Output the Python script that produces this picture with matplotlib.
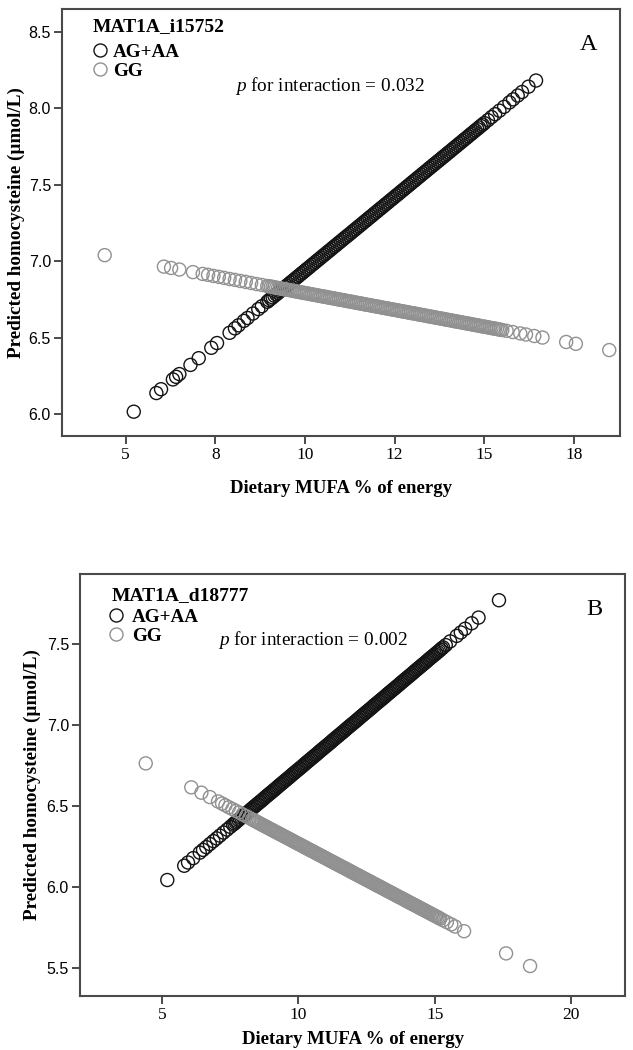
import matplotlib
matplotlib.use('Agg')
import matplotlib.pyplot as plt
from matplotlib.lines import Line2D

plt.rcParams['font.family'] = ['Liberation Serif', 'DejaVu Serif']
plt.rcParams['mathtext.fontset'] = 'custom'
plt.rcParams['mathtext.it'] = 'Liberation Serif:italic'
plt.rcParams['mathtext.rm'] = 'Liberation Serif'

# ---- panel A : MAT1A_i15752 ----
a_aa_x = [5.23, 5.86, 5.99, 6.32, 6.41, 6.50, 6.81, 7.04, 7.39, 7.55,
          7.90, 8.05, 8.15, 8.30, 8.40, 8.55, 8.70, 8.80, 8.95,
          9.0, 9.1, 9.2, 9.3, 9.4, 9.5, 9.6, 9.7, 9.8, 9.9,
          10.0, 10.1, 10.2, 10.3, 10.4, 10.5, 10.6, 10.7, 10.8, 10.9,
          11.0, 11.1, 11.2, 11.3, 11.4, 11.5, 11.6, 11.7, 11.8, 11.9,
          12.0, 12.1, 12.2, 12.3, 12.4, 12.5, 12.6, 12.7, 12.8, 12.9,
          13.0, 13.1, 13.2, 13.3, 13.4, 13.5, 13.6, 13.7, 13.8, 13.9,
          14.0, 14.1, 14.2, 14.3, 14.4, 14.5, 14.6, 14.7, 14.8, 14.9,
          15.0, 15.1, 15.2, 15.3, 15.42, 15.55, 15.70, 15.80, 15.93, 16.05,
          16.23, 16.44]
a_aa_y = [6.016, 6.138, 6.163, 6.227, 6.244, 6.262, 6.322, 6.366, 6.434, 6.465,
          6.532, 6.561, 6.581, 6.610, 6.629, 6.658, 6.687, 6.706, 6.735,
          6.745, 6.764, 6.783, 6.803, 6.822, 6.841, 6.861, 6.880, 6.899, 6.919,
          6.938, 6.957, 6.977, 6.996, 7.015, 7.035, 7.054, 7.073, 7.093, 7.112,
          7.131, 7.151, 7.170, 7.189, 7.208, 7.228, 7.247, 7.266, 7.286, 7.305,
          7.324, 7.344, 7.363, 7.382, 7.402, 7.421, 7.440, 7.460, 7.479, 7.498,
          7.518, 7.537, 7.556, 7.576, 7.595, 7.614, 7.634, 7.653, 7.672, 7.691,
          7.711, 7.730, 7.749, 7.769, 7.788, 7.807, 7.827, 7.846, 7.865, 7.885,
          7.904, 7.923, 7.943, 7.962, 7.985, 8.010, 8.039, 8.059, 8.084, 8.107,
          8.142, 8.182]
# the thick middle of the band
a_aa_x_mid = [9.05, 9.15, 9.25, 9.35, 9.45, 9.55, 9.65, 9.75, 9.85, 9.95,
              10.05, 10.15, 10.25, 10.35, 10.45, 10.55, 10.65, 10.75, 10.85, 10.95,
              11.05, 11.15, 11.25, 11.35, 11.45, 11.55, 11.65, 11.75, 11.85, 11.95,
              12.05, 12.15, 12.25, 12.35, 12.45, 12.55, 12.65, 12.75, 12.85, 12.95,
              13.05, 13.15, 13.25, 13.35, 13.45, 13.55, 13.65, 13.75, 13.85, 13.95,
              14.05, 14.15, 14.25, 14.35, 14.45, 14.55, 14.65, 14.75, 14.85, 14.95]
a_aa_y_mid = [6.755, 6.774, 6.793, 6.812, 6.832, 6.851, 6.870, 6.890, 6.909, 6.928,
              6.948, 6.967, 6.986, 7.006, 7.025, 7.044, 7.064, 7.083, 7.102, 7.122,
              7.141, 7.160, 7.179, 7.199, 7.218, 7.237, 7.257, 7.276, 7.295, 7.315,
              7.334, 7.353, 7.373, 7.392, 7.411, 7.431, 7.450, 7.469, 7.489, 7.508,
              7.527, 7.547, 7.566, 7.585, 7.605, 7.624, 7.643, 7.662, 7.682, 7.701,
              7.720, 7.740, 7.759, 7.778, 7.798, 7.817, 7.836, 7.856, 7.875, 7.894]

a_gg_x = [4.42, 6.07, 6.27, 6.50, 6.88, 7.15,
          7.30, 7.45, 7.60, 7.75, 7.90, 8.05, 8.20, 8.35, 8.50, 8.65, 8.80, 8.95,
          9.0, 9.1, 9.2, 9.3, 9.4, 9.5, 9.6, 9.7, 9.8, 9.9,
          10.0, 10.1, 10.2, 10.3, 10.4, 10.5, 10.6, 10.7, 10.8, 10.9,
          11.0, 11.1, 11.2, 11.3, 11.4, 11.5, 11.6, 11.7, 11.8, 11.9,
          12.0, 12.1, 12.2, 12.3, 12.4, 12.5, 12.6, 12.7, 12.8, 12.9,
          13.0, 13.1, 13.2, 13.3, 13.4, 13.5, 13.6, 13.7, 13.8, 13.9,
          14.0, 14.1, 14.2, 14.3, 14.4, 14.5, 14.6, 14.7, 14.8, 14.9,
          15.0, 15.1, 15.2, 15.3, 15.4, 15.5,
          15.62, 15.79, 16.00, 16.16, 16.39, 16.62, 17.28, 17.55, 18.48]
a_gg_y = [7.040, 6.965, 6.956, 6.946, 6.929, 6.917,
          6.911, 6.904, 6.898, 6.891, 6.884, 6.878, 6.871, 6.865, 6.858, 6.851, 6.845, 6.838,
          6.836, 6.832, 6.827, 6.823, 6.818, 6.814, 6.810, 6.805, 6.801, 6.796,
          6.792, 6.788, 6.783, 6.779, 6.774, 6.770, 6.766, 6.761, 6.757, 6.752,
          6.748, 6.744, 6.739, 6.735, 6.730, 6.726, 6.722, 6.717, 6.713, 6.708,
          6.704, 6.700, 6.695, 6.691, 6.686, 6.682, 6.678, 6.673, 6.669, 6.664,
          6.660, 6.656, 6.651, 6.647, 6.642, 6.638, 6.634, 6.629, 6.625, 6.620,
          6.616, 6.612, 6.607, 6.603, 6.598, 6.594, 6.590, 6.585, 6.581, 6.576,
          6.572, 6.568, 6.563, 6.559, 6.554, 6.550,
          6.545, 6.537, 6.528, 6.521, 6.511, 6.501, 6.472, 6.460, 6.419]
a_gg_x_mid = [9.05, 9.15, 9.25, 9.35, 9.45, 9.55, 9.65, 9.75, 9.85, 9.95,
              10.05, 10.15, 10.25, 10.35, 10.45, 10.55, 10.65, 10.75, 10.85, 10.95,
              11.05, 11.15, 11.25, 11.35, 11.45, 11.55, 11.65, 11.75, 11.85, 11.95,
              12.05, 12.15, 12.25, 12.35, 12.45, 12.55, 12.65, 12.75, 12.85, 12.95,
              13.05, 13.15, 13.25, 13.35, 13.45, 13.55, 13.65, 13.75, 13.85, 13.95,
              14.05, 14.15, 14.25, 14.35, 14.45, 14.55, 14.65, 14.75, 14.85, 14.95,
              15.05, 15.15, 15.25, 15.35, 15.45]
a_gg_y_mid = [6.834, 6.829, 6.825, 6.821, 6.816, 6.812, 6.807, 6.803, 6.799, 6.794,
              6.790, 6.785, 6.781, 6.777, 6.772, 6.768, 6.763, 6.759, 6.755, 6.750,
              6.746, 6.741, 6.737, 6.733, 6.728, 6.724, 6.719, 6.715, 6.711, 6.706,
              6.702, 6.697, 6.693, 6.689, 6.684, 6.680, 6.675, 6.671, 6.667, 6.662,
              6.658, 6.653, 6.649, 6.645, 6.640, 6.636, 6.631, 6.627, 6.623, 6.618,
              6.614, 6.609, 6.605, 6.601, 6.596, 6.592, 6.587, 6.583, 6.579, 6.574,
              6.570, 6.565, 6.561, 6.557, 6.552]

# ---- panel B : MAT1A_d18777 ----
b_aa_x = [5.19, 5.81, 5.95, 6.14, 6.38,
          6.50, 6.62, 6.75, 6.88, 7.00, 7.12, 7.25, 7.38, 7.50,
          7.6, 7.7, 7.8, 7.9, 8.0, 8.1, 8.2, 8.3, 8.4, 8.5, 8.6, 8.7, 8.8, 8.9,
          9.0, 9.1, 9.2, 9.3, 9.4, 9.5, 9.6, 9.7, 9.8, 9.9,
          10.0, 10.1, 10.2, 10.3, 10.4, 10.5, 10.6, 10.7, 10.8, 10.9,
          11.0, 11.1, 11.2, 11.3, 11.4, 11.5, 11.6, 11.7, 11.8, 11.9,
          12.0, 12.1, 12.2, 12.3, 12.4, 12.5, 12.6, 12.7, 12.8, 12.9,
          13.0, 13.1, 13.2, 13.3, 13.4, 13.5, 13.6, 13.7, 13.8, 13.9,
          14.0, 14.1, 14.2, 14.3, 14.4, 14.5, 14.6, 14.7, 14.8, 14.9,
          15.0, 15.1, 15.2, 15.3,
          15.40, 15.56, 15.80, 15.95, 16.11, 16.35, 16.60, 17.35]
b_aa_y = [6.043, 6.131, 6.151, 6.178, 6.212,
          6.229, 6.246, 6.265, 6.283, 6.300, 6.317, 6.336, 6.354, 6.371,
          6.385, 6.399, 6.414, 6.428, 6.442, 6.456, 6.470, 6.485, 6.499, 6.513, 6.527, 6.541, 6.556, 6.570,
          6.584, 6.598, 6.612, 6.627, 6.641, 6.655, 6.669, 6.683, 6.698, 6.712,
          6.726, 6.740, 6.754, 6.769, 6.783, 6.797, 6.811, 6.825, 6.840, 6.854,
          6.868, 6.882, 6.896, 6.911, 6.925, 6.939, 6.953, 6.967, 6.982, 6.996,
          7.010, 7.024, 7.038, 7.053, 7.067, 7.081, 7.095, 7.109, 7.124, 7.138,
          7.152, 7.166, 7.180, 7.195, 7.209, 7.223, 7.237, 7.251, 7.266, 7.280,
          7.294, 7.308, 7.322, 7.337, 7.351, 7.365, 7.379, 7.393, 7.408, 7.422,
          7.436, 7.450, 7.464, 7.479,
          7.493, 7.516, 7.550, 7.571, 7.594, 7.628, 7.663, 7.770]
b_aa_x_mid = [7.65, 7.75, 7.85, 7.95, 8.05, 8.15, 8.25, 8.35, 8.45, 8.55,
              8.65, 8.75, 8.85, 8.95, 9.05, 9.15, 9.25, 9.35, 9.45, 9.55,
              9.65, 9.75, 9.85, 9.95, 10.05, 10.15, 10.25, 10.35, 10.45, 10.55,
              10.65, 10.75, 10.85, 10.95, 11.05, 11.15, 11.25, 11.35, 11.45, 11.55,
              11.65, 11.75, 11.85, 11.95, 12.05, 12.15, 12.25, 12.35, 12.45, 12.55,
              12.65, 12.75, 12.85, 12.95, 13.05, 13.15, 13.25, 13.35, 13.45, 13.55,
              13.65, 13.75, 13.85, 13.95, 14.05, 14.15, 14.25, 14.35, 14.45, 14.55,
              14.65, 14.75, 14.85, 14.95, 15.05, 15.15, 15.25]
b_aa_y_mid = [6.392, 6.407, 6.421, 6.435, 6.449, 6.463, 6.478, 6.492, 6.506, 6.520,
              6.534, 6.549, 6.563, 6.577, 6.591, 6.605, 6.620, 6.634, 6.648, 6.662,
              6.676, 6.691, 6.705, 6.719, 6.733, 6.747, 6.762, 6.776, 6.790, 6.804,
              6.818, 6.833, 6.847, 6.861, 6.875, 6.889, 6.904, 6.918, 6.932, 6.946,
              6.960, 6.975, 6.989, 7.003, 7.017, 7.031, 7.046, 7.060, 7.074, 7.088,
              7.102, 7.117, 7.131, 7.145, 7.159, 7.173, 7.188, 7.202, 7.216, 7.230,
              7.244, 7.259, 7.273, 7.287, 7.301, 7.315, 7.330, 7.344, 7.358, 7.372,
              7.386, 7.401, 7.415, 7.429, 7.443, 7.457, 7.472]

b_gg_x = [4.40, 6.07, 6.44, 6.75, 7.05,
          7.20, 7.32, 7.45, 7.58, 7.70, 7.82, 7.95, 8.08, 8.20,
          8.3, 8.4, 8.5, 8.6, 8.7, 8.8, 8.9,
          9.0, 9.1, 9.2, 9.3, 9.4, 9.5, 9.6, 9.7, 9.8, 9.9,
          10.0, 10.1, 10.2, 10.3, 10.4, 10.5, 10.6, 10.7, 10.8, 10.9,
          11.0, 11.1, 11.2, 11.3, 11.4, 11.5, 11.6, 11.7, 11.8, 11.9,
          12.0, 12.1, 12.2, 12.3, 12.4, 12.5, 12.6, 12.7, 12.8, 12.9,
          13.0, 13.1, 13.2, 13.3, 13.4, 13.5, 13.6, 13.7, 13.8, 13.9,
          14.0, 14.1, 14.2, 14.3, 14.4, 14.5, 14.6, 14.7, 14.8, 14.9,
          15.0, 15.1, 15.2,
          15.30, 15.44, 15.60, 15.74, 16.07, 17.61, 18.49]
b_gg_y = [6.763, 6.615, 6.582, 6.555, 6.528,
          6.515, 6.504, 6.492, 6.481, 6.470, 6.460, 6.448, 6.437, 6.426,
          6.417, 6.408, 6.399, 6.390, 6.381, 6.373, 6.364,
          6.355, 6.346, 6.337, 6.328, 6.319, 6.310, 6.302, 6.293, 6.284, 6.275,
          6.266, 6.257, 6.248, 6.239, 6.230, 6.222, 6.213, 6.204, 6.195, 6.186,
          6.177, 6.168, 6.159, 6.151, 6.142, 6.133, 6.124, 6.115, 6.106, 6.097,
          6.088, 6.079, 6.071, 6.062, 6.053, 6.044, 6.035, 6.026, 6.017, 6.008,
          6.000, 5.991, 5.982, 5.973, 5.964, 5.955, 5.946, 5.937, 5.929, 5.920,
          5.911, 5.902, 5.893, 5.884, 5.875, 5.866, 5.858, 5.849, 5.840, 5.831,
          5.822, 5.813, 5.804,
          5.795, 5.783, 5.769, 5.756, 5.727, 5.590, 5.512]
b_gg_x_mid = [8.35, 8.45, 8.55, 8.65, 8.75, 8.85, 8.95, 9.05, 9.15, 9.25,
              9.35, 9.45, 9.55, 9.65, 9.75, 9.85, 9.95, 10.05, 10.15, 10.25,
              10.35, 10.45, 10.55, 10.65, 10.75, 10.85, 10.95, 11.05, 11.15, 11.25,
              11.35, 11.45, 11.55, 11.65, 11.75, 11.85, 11.95, 12.05, 12.15, 12.25,
              12.35, 12.45, 12.55, 12.65, 12.75, 12.85, 12.95, 13.05, 13.15, 13.25,
              13.35, 13.45, 13.55, 13.65, 13.75, 13.85, 13.95, 14.05, 14.15, 14.25,
              14.35, 14.45, 14.55, 14.65, 14.75, 14.85, 14.95, 15.05, 15.15]
b_gg_y_mid = [6.413, 6.404, 6.395, 6.386, 6.377, 6.368, 6.359, 6.350, 6.341, 6.333,
              6.324, 6.315, 6.306, 6.297, 6.288, 6.279, 6.270, 6.262, 6.253, 6.244,
              6.235, 6.226, 6.217, 6.208, 6.199, 6.191, 6.182, 6.173, 6.164, 6.155,
              6.146, 6.137, 6.128, 6.120, 6.111, 6.102, 6.093, 6.084, 6.075, 6.066,
              6.057, 6.048, 6.040, 6.031, 6.022, 6.013, 6.004, 5.995, 5.986, 5.977,
              5.968, 5.960, 5.951, 5.942, 5.933, 5.924, 5.915, 5.906, 5.897, 5.889,
              5.880, 5.871, 5.862, 5.853, 5.844, 5.835, 5.826, 5.818, 5.809]

genotypes = ['AG+AA', 'GG']
a_xticks = [5, 7.5, 10, 12.5, 15, 17.5]
a_xticklabels = ['5', '8', '10', '12', '15', '18']
a_yticks = [6.0, 6.5, 7.0, 7.5, 8.0, 8.5]
b_xticks = [5, 10, 15, 20]
b_xticklabels = ['5', '10', '15', '20']
b_yticks = [5.5, 6.0, 6.5, 7.0, 7.5]

AA_COLOR = '#141414'
GG_COLOR = '#919191'
SPINE = '#4a4a4a'
W, H = 633., 1050.


def box(l, t, r, b):
    # pixel box -> figure fraction
    return [l / W, 1 - b / H, (r - l) / W, (b - t) / H]


def panel(ax, aa, gg, snp, ptext, letter, xlim, ylim, xt, xtl, yt, opts):
    ax.scatter(aa[0], aa[1], s=88, facecolors='none', edgecolors=AA_COLOR, linewidths=1.0, zorder=2)
    ax.scatter(gg[0], gg[1], s=88, facecolors='none', edgecolors=GG_COLOR, linewidths=1.0, zorder=3)

    ax.set_xlim(*xlim)
    ax.set_ylim(*ylim)
    ax.set_xticks(xt)
    ax.set_xticklabels(xtl, fontsize=12.5)
    ax.set_yticks(yt)
    ax.set_yticklabels(['%.1f' % v for v in yt], fontsize=11.5, family=['Liberation Sans'])
    ax.tick_params(direction='out', length=6, width=1.4, color=SPINE, pad=2)
    for s in ax.spines.values():
        s.set_color(SPINE)
        s.set_linewidth(1.5)

    ax.set_xlabel('Dietary MUFA % of energy', fontsize=13.5, fontweight='bold',
                  labelpad=opts['xlabelpad'])
    ax.set_ylabel('Predicted homocysteine (\u00b5mol/L)', fontsize=13.8, fontweight='bold')
    ax.yaxis.set_label_coords(opts['ylab_x'], 0.5)

    # legend: title as text, the two genotype keys below it
    ax.text(opts['title_xy'][0], opts['title_xy'][1], snp, transform=ax.transAxes,
            fontsize=14, fontweight='bold', ha='left', va='center')
    handles = [Line2D([], [], ls='none', marker='o', ms=9.4, mfc='none', mec=c, mew=1.0)
               for c in (AA_COLOR, GG_COLOR)]
    ax.legend(handles, genotypes, loc='upper left', bbox_to_anchor=opts['leg_xy'],
              frameon=False, borderpad=0, borderaxespad=0, handlelength=0.75,
              handletextpad=opts['htp'], labelspacing=0.08,
              prop={'weight': 'bold', 'size': 13.8})

    ax.text(opts['p_xy'][0], opts['p_xy'][1], '$p$ for interaction = ' + ptext,
            transform=ax.transAxes, fontsize=13.9, ha='left', va='center')
    ax.text(opts['letter_xy'][0], opts['letter_xy'][1], letter, transform=ax.transAxes,
            fontsize=17.5, ha='center', va='center')


def main():
    fig = plt.figure(figsize=(6.33, 10.5), dpi=100)
    ax1 = fig.add_axes(box(62, 9, 620, 436))
    ax2 = fig.add_axes(box(80, 574, 625, 996))

    panel(ax1, (a_aa_x + a_aa_x_mid, a_aa_y + a_aa_y_mid),
          (a_gg_x + a_gg_x_mid, a_gg_y + a_gg_y_mid),
          'MAT1A_i15752', '0.032', 'A',
          (3.23, 18.78), (5.857, 8.65), a_xticks, a_xticklabels, a_yticks,
          dict(xlabelpad=12, ylab_x=-0.066, title_xy=(0.055, 0.960),
               leg_xy=(0.055, 0.919), htp=0.3, p_xy=(0.31, 0.820),
               letter_xy=(0.944, 0.916)))
    panel(ax2, (b_aa_x + b_aa_x_mid, b_aa_y + b_aa_y_mid),
          (b_gg_x + b_gg_x_mid, b_gg_y + b_gg_y_mid),
          'MAT1A_d18777', '0.002', 'B',
          (1.99, 21.97), (5.327, 7.932), b_xticks, b_xticklabels, b_yticks,
          dict(xlabelpad=6, ylab_x=-0.072, title_xy=(0.0587, 0.950),
               leg_xy=(0.052, 0.919), htp=0.5, p_xy=(0.253, 0.8436),
               letter_xy=(0.943, 0.915)))

    fig.savefig('out.png', dpi=100)


if __name__ == '__main__':
    main()
